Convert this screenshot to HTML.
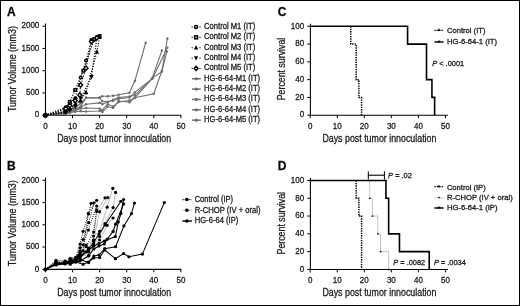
<!DOCTYPE html>
<html><head><meta charset="utf-8"><style>
html,body{margin:0;padding:0;background:#fff;}
body{width:520px;height:306px;overflow:hidden;}
svg{display:block;font-family:"Liberation Sans", sans-serif;will-change:transform;} text{stroke:#222;stroke-width:0.3px;}
</style></head><body>
<svg width="520" height="306" viewBox="0 0 520 306">
<rect x="0" y="0" width="520" height="306" fill="#fff"/>
<text x="277.7" y="15.9" font-size="12" text-anchor="start" font-weight="bold" fill="#000" >C</text>
<line x1="310.40" y1="23.80" x2="310.40" y2="115.70" stroke="#000" stroke-width="1.1" />
<line x1="307.30" y1="115.20" x2="310.40" y2="115.20" stroke="#000" stroke-width="1.0" />
<text x="304.2" y="117.45" font-size="8.9" text-anchor="end" font-weight="normal" fill="#1a1a1a" textLength="4.45" lengthAdjust="spacingAndGlyphs" >0</text>
<line x1="307.30" y1="97.42" x2="310.40" y2="97.42" stroke="#000" stroke-width="1.0" />
<text x="304.2" y="99.67" font-size="8.9" text-anchor="end" font-weight="normal" fill="#1a1a1a" textLength="8.9" lengthAdjust="spacingAndGlyphs" >20</text>
<line x1="307.30" y1="79.64" x2="310.40" y2="79.64" stroke="#000" stroke-width="1.0" />
<text x="304.2" y="81.89" font-size="8.9" text-anchor="end" font-weight="normal" fill="#1a1a1a" textLength="8.9" lengthAdjust="spacingAndGlyphs" >40</text>
<line x1="307.30" y1="61.86" x2="310.40" y2="61.86" stroke="#000" stroke-width="1.0" />
<text x="304.2" y="64.11" font-size="8.9" text-anchor="end" font-weight="normal" fill="#1a1a1a" textLength="8.9" lengthAdjust="spacingAndGlyphs" >60</text>
<line x1="307.30" y1="44.08" x2="310.40" y2="44.08" stroke="#000" stroke-width="1.0" />
<text x="304.2" y="46.33" font-size="8.9" text-anchor="end" font-weight="normal" fill="#1a1a1a" textLength="8.9" lengthAdjust="spacingAndGlyphs" >80</text>
<line x1="307.30" y1="26.30" x2="310.40" y2="26.30" stroke="#000" stroke-width="1.0" />
<text x="304.2" y="28.549999999999997" font-size="8.9" text-anchor="end" font-weight="normal" fill="#1a1a1a" textLength="13.350000000000001" lengthAdjust="spacingAndGlyphs" >100</text>
<line x1="309.90" y1="115.30" x2="447.90" y2="115.30" stroke="#000" stroke-width="1.1" />
<line x1="310.20" y1="115.30" x2="310.20" y2="118.20" stroke="#000" stroke-width="1.0" />
<text x="310.2" y="128.7" font-size="8.9" text-anchor="middle" font-weight="normal" fill="#1a1a1a" textLength="4.45" lengthAdjust="spacingAndGlyphs" >0</text>
<line x1="337.25" y1="115.30" x2="337.25" y2="118.20" stroke="#000" stroke-width="1.0" />
<text x="337.25" y="128.7" font-size="8.9" text-anchor="middle" font-weight="normal" fill="#1a1a1a" textLength="8.9" lengthAdjust="spacingAndGlyphs" >10</text>
<line x1="364.30" y1="115.30" x2="364.30" y2="118.20" stroke="#000" stroke-width="1.0" />
<text x="364.3" y="128.7" font-size="8.9" text-anchor="middle" font-weight="normal" fill="#1a1a1a" textLength="8.9" lengthAdjust="spacingAndGlyphs" >20</text>
<line x1="391.35" y1="115.30" x2="391.35" y2="118.20" stroke="#000" stroke-width="1.0" />
<text x="391.35" y="128.7" font-size="8.9" text-anchor="middle" font-weight="normal" fill="#1a1a1a" textLength="8.9" lengthAdjust="spacingAndGlyphs" >30</text>
<line x1="418.40" y1="115.30" x2="418.40" y2="118.20" stroke="#000" stroke-width="1.0" />
<text x="418.4" y="128.7" font-size="8.9" text-anchor="middle" font-weight="normal" fill="#1a1a1a" textLength="8.9" lengthAdjust="spacingAndGlyphs" >40</text>
<line x1="445.45" y1="115.30" x2="445.45" y2="118.20" stroke="#000" stroke-width="1.0" />
<text x="445.45" y="128.7" font-size="8.9" text-anchor="middle" font-weight="normal" fill="#1a1a1a" textLength="8.9" lengthAdjust="spacingAndGlyphs" >50</text>
<text x="322.4" y="142.1" font-size="10.6" text-anchor="start" font-weight="normal" fill="#1a1a1a" textLength="114" lengthAdjust="spacingAndGlyphs" >Days post tumor innoculation</text>
<text transform="translate(285.0,69) rotate(-90)" font-size="10.6" text-anchor="middle" fill="#1a1a1a" textLength="62.5" lengthAdjust="spacingAndGlyphs">Percent survival</text>
<polyline points="350.77,26.30 350.77,26.30 350.77,44.08 356.19,44.08 356.19,79.64 358.89,79.64 358.89,97.42 361.59,97.42 361.59,115.20" fill="none" stroke="#000" stroke-width="1.5" stroke-linejoin="miter" stroke-dasharray="1.35 1.05"/>
<polyline points="310.20,26.30 407.58,26.30 407.58,44.08 426.51,44.08 426.51,79.64 431.93,79.64 431.93,97.42 434.63,97.42 434.63,115.20" fill="none" stroke="#000" stroke-width="1.6" stroke-linejoin="miter" />
<line x1="434.40" y1="30.30" x2="443.60" y2="30.30" stroke="#000" stroke-width="1.2" stroke-dasharray="1.35 1.05"/>
<path d="M437.5,30.9 L439,28.3 L440.5,30.9 Z" fill="#000"/>
<line x1="434.40" y1="42.00" x2="443.60" y2="42.00" stroke="#000" stroke-width="1.4" />
<path d="M437.5,42.3 L439,39.9 L440.5,42.3 Z" fill="#000"/>
<text x="446.9" y="33.3" font-size="7.9" text-anchor="start" font-weight="normal" fill="#1a1a1a" textLength="38.6" lengthAdjust="spacingAndGlyphs" >Control (IT)</text>
<text x="446.9" y="43.8" font-size="7.9" text-anchor="start" font-weight="normal" fill="#1a1a1a" textLength="50.2" lengthAdjust="spacingAndGlyphs" >HG-6-64-1 (IT)</text>
<text x="432.2" y="66.3" font-size="7.7" fill="#1a1a1a" textLength="32" lengthAdjust="spacingAndGlyphs"><tspan font-style="italic">P</tspan> &lt; .0001</text>
<text x="277.7" y="170.1" font-size="12" text-anchor="start" font-weight="bold" fill="#000" >D</text>
<line x1="310.40" y1="178.00" x2="310.40" y2="269.90" stroke="#000" stroke-width="1.1" />
<line x1="307.30" y1="269.40" x2="310.40" y2="269.40" stroke="#000" stroke-width="1.0" />
<text x="304.2" y="271.65" font-size="8.9" text-anchor="end" font-weight="normal" fill="#1a1a1a" textLength="4.45" lengthAdjust="spacingAndGlyphs" >0</text>
<line x1="307.30" y1="251.62" x2="310.40" y2="251.62" stroke="#000" stroke-width="1.0" />
<text x="304.2" y="253.86999999999998" font-size="8.9" text-anchor="end" font-weight="normal" fill="#1a1a1a" textLength="8.9" lengthAdjust="spacingAndGlyphs" >20</text>
<line x1="307.30" y1="233.84" x2="310.40" y2="233.84" stroke="#000" stroke-width="1.0" />
<text x="304.2" y="236.08999999999997" font-size="8.9" text-anchor="end" font-weight="normal" fill="#1a1a1a" textLength="8.9" lengthAdjust="spacingAndGlyphs" >40</text>
<line x1="307.30" y1="216.06" x2="310.40" y2="216.06" stroke="#000" stroke-width="1.0" />
<text x="304.2" y="218.30999999999997" font-size="8.9" text-anchor="end" font-weight="normal" fill="#1a1a1a" textLength="8.9" lengthAdjust="spacingAndGlyphs" >60</text>
<line x1="307.30" y1="198.28" x2="310.40" y2="198.28" stroke="#000" stroke-width="1.0" />
<text x="304.2" y="200.52999999999997" font-size="8.9" text-anchor="end" font-weight="normal" fill="#1a1a1a" textLength="8.9" lengthAdjust="spacingAndGlyphs" >80</text>
<line x1="307.30" y1="180.50" x2="310.40" y2="180.50" stroke="#000" stroke-width="1.0" />
<text x="304.2" y="182.74999999999997" font-size="8.9" text-anchor="end" font-weight="normal" fill="#1a1a1a" textLength="13.350000000000001" lengthAdjust="spacingAndGlyphs" >100</text>
<line x1="309.90" y1="269.50" x2="447.90" y2="269.50" stroke="#000" stroke-width="1.1" />
<line x1="310.20" y1="269.50" x2="310.20" y2="272.40" stroke="#000" stroke-width="1.0" />
<text x="310.2" y="282.9" font-size="8.9" text-anchor="middle" font-weight="normal" fill="#1a1a1a" textLength="4.45" lengthAdjust="spacingAndGlyphs" >0</text>
<line x1="337.25" y1="269.50" x2="337.25" y2="272.40" stroke="#000" stroke-width="1.0" />
<text x="337.25" y="282.9" font-size="8.9" text-anchor="middle" font-weight="normal" fill="#1a1a1a" textLength="8.9" lengthAdjust="spacingAndGlyphs" >10</text>
<line x1="364.30" y1="269.50" x2="364.30" y2="272.40" stroke="#000" stroke-width="1.0" />
<text x="364.3" y="282.9" font-size="8.9" text-anchor="middle" font-weight="normal" fill="#1a1a1a" textLength="8.9" lengthAdjust="spacingAndGlyphs" >20</text>
<line x1="391.35" y1="269.50" x2="391.35" y2="272.40" stroke="#000" stroke-width="1.0" />
<text x="391.35" y="282.9" font-size="8.9" text-anchor="middle" font-weight="normal" fill="#1a1a1a" textLength="8.9" lengthAdjust="spacingAndGlyphs" >30</text>
<line x1="418.40" y1="269.50" x2="418.40" y2="272.40" stroke="#000" stroke-width="1.0" />
<text x="418.4" y="282.9" font-size="8.9" text-anchor="middle" font-weight="normal" fill="#1a1a1a" textLength="8.9" lengthAdjust="spacingAndGlyphs" >40</text>
<line x1="445.45" y1="269.50" x2="445.45" y2="272.40" stroke="#000" stroke-width="1.0" />
<text x="445.45" y="282.9" font-size="8.9" text-anchor="middle" font-weight="normal" fill="#1a1a1a" textLength="8.9" lengthAdjust="spacingAndGlyphs" >50</text>
<text x="322.4" y="296.29999999999995" font-size="10.6" text-anchor="start" font-weight="normal" fill="#1a1a1a" textLength="114" lengthAdjust="spacingAndGlyphs" >Days post tumor innoculation</text>
<text transform="translate(285.0,223.2) rotate(-90)" font-size="10.6" text-anchor="middle" fill="#1a1a1a" textLength="62.5" lengthAdjust="spacingAndGlyphs">Percent survival</text>
<polyline points="356.19,180.50 356.19,180.50 356.19,198.28 358.89,198.28 358.89,216.06 361.59,216.06 361.59,269.40" fill="none" stroke="#000" stroke-width="1.5" stroke-linejoin="miter" stroke-dasharray="1.35 1.05"/>
<polyline points="369.71,180.50 369.71,180.50 369.71,198.28 372.41,198.28 372.41,216.06 377.82,216.06 377.82,233.84 380.53,233.84 380.53,251.62 388.64,251.62 388.64,269.40" fill="none" stroke="#c4c4c4" stroke-width="1.0" stroke-linejoin="miter" />
<circle cx="369.71" cy="198.28" r="0.9" fill="#111"/>
<circle cx="372.41" cy="216.06" r="0.9" fill="#111"/>
<circle cx="377.82" cy="233.84" r="0.9" fill="#111"/>
<circle cx="380.53" cy="251.62" r="0.9" fill="#111"/>
<circle cx="388.64" cy="269.40" r="0.9" fill="#111"/>
<polyline points="310.20,180.50 385.94,180.50 385.94,198.28 388.64,198.28 388.64,233.84 399.46,233.84 399.46,251.62 429.22,251.62 429.22,269.40" fill="none" stroke="#000" stroke-width="1.6" stroke-linejoin="miter" />
<line x1="368.30" y1="175.20" x2="384.40" y2="175.20" stroke="#000" stroke-width="1.1" />
<line x1="368.30" y1="171.30" x2="368.30" y2="179.60" stroke="#000" stroke-width="1.0" />
<line x1="384.40" y1="171.30" x2="384.40" y2="179.60" stroke="#000" stroke-width="1.0" />
<text x="388.1" y="178.2" font-size="7.7" fill="#1a1a1a" textLength="23.8" lengthAdjust="spacingAndGlyphs"><tspan font-style="italic">P</tspan> = .02</text>
<text x="393.3" y="265.1" font-size="7.7" fill="#1a1a1a" textLength="31.8" lengthAdjust="spacingAndGlyphs"><tspan font-style="italic">P</tspan> = .0082</text>
<text x="433.9" y="265.0" font-size="7.7" fill="#1a1a1a" textLength="31.9" lengthAdjust="spacingAndGlyphs"><tspan font-style="italic">P</tspan> = .0034</text>
<line x1="434.40" y1="186.70" x2="443.60" y2="186.70" stroke="#000" stroke-width="1.2" stroke-dasharray="1.35 1.05"/>
<path d="M437.5,187.3 L439,184.7 L440.5,187.3 Z" fill="#000"/>
<line x1="434.40" y1="197.80" x2="443.60" y2="197.80" stroke="#c4c4c4" stroke-width="1.0" />
<path d="M437.9,198.2 L439,196.3 L440.1,198.2 Z" fill="#000"/>
<line x1="434.40" y1="208.00" x2="443.60" y2="208.00" stroke="#000" stroke-width="1.5" />
<path d="M437.5,208.3 L439,205.9 L440.5,208.3 Z" fill="#000"/>
<text x="446.9" y="189.5" font-size="7.9" text-anchor="start" font-weight="normal" fill="#1a1a1a" textLength="38.8" lengthAdjust="spacingAndGlyphs" >Control (IP)</text>
<text x="446.9" y="200.0" font-size="7.9" text-anchor="start" font-weight="normal" fill="#1a1a1a" textLength="65.8" lengthAdjust="spacingAndGlyphs" >R-CHOP (IV + oral)</text>
<text x="446.9" y="210.4" font-size="7.9" text-anchor="start" font-weight="normal" fill="#1a1a1a" textLength="50.6" lengthAdjust="spacingAndGlyphs" >HG-6-64-1 (IP)</text>
<text x="7.0" y="15.7" font-size="12" text-anchor="start" font-weight="bold" fill="#000" >A</text>
<line x1="45.50" y1="23.50" x2="45.50" y2="115.70" stroke="#000" stroke-width="1.1" />
<line x1="42.40" y1="115.20" x2="45.50" y2="115.20" stroke="#000" stroke-width="1.0" />
<text x="39.3" y="117.45" font-size="8.9" text-anchor="end" font-weight="normal" fill="#1a1a1a" textLength="4.45" lengthAdjust="spacingAndGlyphs" >0</text>
<line x1="42.40" y1="92.95" x2="45.50" y2="92.95" stroke="#000" stroke-width="1.0" />
<text x="39.3" y="95.2" font-size="8.9" text-anchor="end" font-weight="normal" fill="#1a1a1a" textLength="13.350000000000001" lengthAdjust="spacingAndGlyphs" >500</text>
<line x1="42.40" y1="70.70" x2="45.50" y2="70.70" stroke="#000" stroke-width="1.0" />
<text x="39.3" y="72.95" font-size="8.9" text-anchor="end" font-weight="normal" fill="#1a1a1a" textLength="17.8" lengthAdjust="spacingAndGlyphs" >1000</text>
<line x1="42.40" y1="48.45" x2="45.50" y2="48.45" stroke="#000" stroke-width="1.0" />
<text x="39.3" y="50.7" font-size="8.9" text-anchor="end" font-weight="normal" fill="#1a1a1a" textLength="17.8" lengthAdjust="spacingAndGlyphs" >1500</text>
<line x1="42.40" y1="26.20" x2="45.50" y2="26.20" stroke="#000" stroke-width="1.0" />
<text x="39.3" y="28.450000000000003" font-size="8.9" text-anchor="end" font-weight="normal" fill="#1a1a1a" textLength="17.8" lengthAdjust="spacingAndGlyphs" >2000</text>
<line x1="45.00" y1="115.30" x2="181.20" y2="115.30" stroke="#000" stroke-width="1.1" />
<line x1="45.40" y1="115.30" x2="45.40" y2="118.20" stroke="#000" stroke-width="1.0" />
<text x="45.4" y="128.7" font-size="8.9" text-anchor="middle" font-weight="normal" fill="#1a1a1a" textLength="4.45" lengthAdjust="spacingAndGlyphs" >0</text>
<line x1="72.50" y1="115.30" x2="72.50" y2="118.20" stroke="#000" stroke-width="1.0" />
<text x="72.5" y="128.7" font-size="8.9" text-anchor="middle" font-weight="normal" fill="#1a1a1a" textLength="8.9" lengthAdjust="spacingAndGlyphs" >10</text>
<line x1="99.60" y1="115.30" x2="99.60" y2="118.20" stroke="#000" stroke-width="1.0" />
<text x="99.6" y="128.7" font-size="8.9" text-anchor="middle" font-weight="normal" fill="#1a1a1a" textLength="8.9" lengthAdjust="spacingAndGlyphs" >20</text>
<line x1="126.70" y1="115.30" x2="126.70" y2="118.20" stroke="#000" stroke-width="1.0" />
<text x="126.69999999999999" y="128.7" font-size="8.9" text-anchor="middle" font-weight="normal" fill="#1a1a1a" textLength="8.9" lengthAdjust="spacingAndGlyphs" >30</text>
<line x1="153.80" y1="115.30" x2="153.80" y2="118.20" stroke="#000" stroke-width="1.0" />
<text x="153.8" y="128.7" font-size="8.9" text-anchor="middle" font-weight="normal" fill="#1a1a1a" textLength="8.9" lengthAdjust="spacingAndGlyphs" >40</text>
<line x1="180.90" y1="115.30" x2="180.90" y2="118.20" stroke="#000" stroke-width="1.0" />
<text x="180.9" y="128.7" font-size="8.9" text-anchor="middle" font-weight="normal" fill="#1a1a1a" textLength="8.9" lengthAdjust="spacingAndGlyphs" >50</text>
<text x="57.2" y="142.1" font-size="10.6" text-anchor="start" font-weight="normal" fill="#1a1a1a" textLength="114" lengthAdjust="spacingAndGlyphs" >Days post tumor innoculation</text>
<text transform="translate(15.9,69.1) rotate(-90)" font-size="10.6" text-anchor="middle" fill="#1a1a1a" textLength="86" lengthAdjust="spacingAndGlyphs">Tumor Volume (mm3)</text>
<polyline points="45.40,115.30 64.37,111.74 69.79,109.52 75.21,107.73 80.63,103.28 86.05,97.81 99.60,97.59 102.31,96.30 107.73,96.30 113.15,95.81 118.57,94.79 129.41,92.78 134.83,81.08 145.67,42.77" fill="none" stroke="#707070" stroke-width="1.1" stroke-linejoin="miter" />
<polyline points="45.40,115.30 64.37,112.63 69.79,110.85 75.21,109.07 80.63,106.40 86.05,97.81 99.60,97.94 102.31,101.19 107.73,101.68 113.15,100.70 118.57,98.70 129.41,97.59 134.83,92.38 151.90,78.81 161.93,50.42" fill="none" stroke="#707070" stroke-width="1.1" stroke-linejoin="miter" />
<polyline points="45.40,115.30 64.37,113.52 69.79,112.19 75.21,110.41 80.63,108.62 86.05,108.00 99.60,108.49 102.31,112.01 107.73,106.58 113.15,108.00 118.57,101.06 129.41,102.22 134.83,97.81 152.72,77.79 161.93,71.38 166.81,51.40" fill="none" stroke="#707070" stroke-width="1.1" stroke-linejoin="miter" />
<polyline points="45.40,115.30 64.37,113.97 69.79,112.63 75.21,111.74 80.63,111.30 86.05,111.52 99.60,110.98 102.31,109.96 107.73,104.17 113.15,106.40 118.57,101.95 129.41,100.61 134.83,97.81 153.80,93.72 161.93,70.80 167.35,38.58" fill="none" stroke="#707070" stroke-width="1.1" stroke-linejoin="miter" />
<polyline points="45.40,115.30 64.37,113.08 69.79,111.30 75.21,109.96 80.63,107.29 86.05,104.17 99.60,102.84 102.31,104.17 107.73,101.95 113.15,99.72 118.57,97.50 129.41,96.61 134.83,95.28 152.44,78.37 167.35,47.66" fill="none" stroke="#707070" stroke-width="1.1" stroke-linejoin="miter" />
<circle cx="64.37" cy="111.74" r="1.25" fill="#6e6e6e"/>
<circle cx="69.79" cy="109.52" r="1.25" fill="#6e6e6e"/>
<circle cx="75.21" cy="107.73" r="1.25" fill="#6e6e6e"/>
<circle cx="80.63" cy="103.28" r="1.25" fill="#6e6e6e"/>
<circle cx="86.05" cy="97.81" r="1.25" fill="#6e6e6e"/>
<circle cx="99.60" cy="97.59" r="1.25" fill="#6e6e6e"/>
<circle cx="102.31" cy="96.30" r="1.25" fill="#6e6e6e"/>
<circle cx="107.73" cy="96.30" r="1.25" fill="#6e6e6e"/>
<circle cx="113.15" cy="95.81" r="1.25" fill="#6e6e6e"/>
<circle cx="118.57" cy="94.79" r="1.25" fill="#6e6e6e"/>
<circle cx="129.41" cy="92.78" r="1.25" fill="#6e6e6e"/>
<circle cx="134.83" cy="81.08" r="1.25" fill="#6e6e6e"/>
<circle cx="145.67" cy="42.77" r="1.25" fill="#6e6e6e"/>
<circle cx="64.37" cy="112.63" r="1.25" fill="#6e6e6e"/>
<circle cx="69.79" cy="110.85" r="1.25" fill="#6e6e6e"/>
<circle cx="75.21" cy="109.07" r="1.25" fill="#6e6e6e"/>
<circle cx="80.63" cy="106.40" r="1.25" fill="#6e6e6e"/>
<circle cx="86.05" cy="97.81" r="1.25" fill="#6e6e6e"/>
<circle cx="99.60" cy="97.94" r="1.25" fill="#6e6e6e"/>
<circle cx="102.31" cy="101.19" r="1.25" fill="#6e6e6e"/>
<circle cx="107.73" cy="101.68" r="1.25" fill="#6e6e6e"/>
<circle cx="113.15" cy="100.70" r="1.25" fill="#6e6e6e"/>
<circle cx="118.57" cy="98.70" r="1.25" fill="#6e6e6e"/>
<circle cx="129.41" cy="97.59" r="1.25" fill="#6e6e6e"/>
<circle cx="134.83" cy="92.38" r="1.25" fill="#6e6e6e"/>
<circle cx="151.90" cy="78.81" r="1.25" fill="#6e6e6e"/>
<circle cx="161.93" cy="50.42" r="1.25" fill="#6e6e6e"/>
<circle cx="64.37" cy="113.52" r="1.25" fill="#6e6e6e"/>
<circle cx="69.79" cy="112.19" r="1.25" fill="#6e6e6e"/>
<circle cx="75.21" cy="110.41" r="1.25" fill="#6e6e6e"/>
<circle cx="80.63" cy="108.62" r="1.25" fill="#6e6e6e"/>
<circle cx="86.05" cy="108.00" r="1.25" fill="#6e6e6e"/>
<circle cx="99.60" cy="108.49" r="1.25" fill="#6e6e6e"/>
<circle cx="102.31" cy="112.01" r="1.25" fill="#6e6e6e"/>
<circle cx="107.73" cy="106.58" r="1.25" fill="#6e6e6e"/>
<circle cx="113.15" cy="108.00" r="1.25" fill="#6e6e6e"/>
<circle cx="118.57" cy="101.06" r="1.25" fill="#6e6e6e"/>
<circle cx="129.41" cy="102.22" r="1.25" fill="#6e6e6e"/>
<circle cx="134.83" cy="97.81" r="1.25" fill="#6e6e6e"/>
<circle cx="152.72" cy="77.79" r="1.25" fill="#6e6e6e"/>
<circle cx="161.93" cy="71.38" r="1.25" fill="#6e6e6e"/>
<circle cx="166.81" cy="51.40" r="1.25" fill="#6e6e6e"/>
<circle cx="64.37" cy="113.97" r="1.25" fill="#6e6e6e"/>
<circle cx="69.79" cy="112.63" r="1.25" fill="#6e6e6e"/>
<circle cx="75.21" cy="111.74" r="1.25" fill="#6e6e6e"/>
<circle cx="80.63" cy="111.30" r="1.25" fill="#6e6e6e"/>
<circle cx="86.05" cy="111.52" r="1.25" fill="#6e6e6e"/>
<circle cx="99.60" cy="110.98" r="1.25" fill="#6e6e6e"/>
<circle cx="102.31" cy="109.96" r="1.25" fill="#6e6e6e"/>
<circle cx="107.73" cy="104.17" r="1.25" fill="#6e6e6e"/>
<circle cx="113.15" cy="106.40" r="1.25" fill="#6e6e6e"/>
<circle cx="118.57" cy="101.95" r="1.25" fill="#6e6e6e"/>
<circle cx="129.41" cy="100.61" r="1.25" fill="#6e6e6e"/>
<circle cx="134.83" cy="97.81" r="1.25" fill="#6e6e6e"/>
<circle cx="153.80" cy="93.72" r="1.25" fill="#6e6e6e"/>
<circle cx="161.93" cy="70.80" r="1.25" fill="#6e6e6e"/>
<circle cx="167.35" cy="38.58" r="1.25" fill="#6e6e6e"/>
<circle cx="64.37" cy="113.08" r="1.25" fill="#6e6e6e"/>
<circle cx="69.79" cy="111.30" r="1.25" fill="#6e6e6e"/>
<circle cx="75.21" cy="109.96" r="1.25" fill="#6e6e6e"/>
<circle cx="80.63" cy="107.29" r="1.25" fill="#6e6e6e"/>
<circle cx="86.05" cy="104.17" r="1.25" fill="#6e6e6e"/>
<circle cx="99.60" cy="102.84" r="1.25" fill="#6e6e6e"/>
<circle cx="102.31" cy="104.17" r="1.25" fill="#6e6e6e"/>
<circle cx="107.73" cy="101.95" r="1.25" fill="#6e6e6e"/>
<circle cx="113.15" cy="99.72" r="1.25" fill="#6e6e6e"/>
<circle cx="118.57" cy="97.50" r="1.25" fill="#6e6e6e"/>
<circle cx="129.41" cy="96.61" r="1.25" fill="#6e6e6e"/>
<circle cx="134.83" cy="95.28" r="1.25" fill="#6e6e6e"/>
<circle cx="152.44" cy="78.37" r="1.25" fill="#6e6e6e"/>
<circle cx="167.35" cy="47.66" r="1.25" fill="#6e6e6e"/>
<polyline points="45.40,115.30 65.72,107.29 69.79,102.84 75.21,98.39 80.63,77.47 86.05,60.56 91.47,40.09 94.18,39.65" fill="none" stroke="#000" stroke-width="1.15" stroke-linejoin="miter" stroke-dasharray="1.1 1.5"/>
<polyline points="45.40,115.30 65.72,109.52 69.79,101.95 75.21,89.94 83.34,70.80 94.18,39.20 99.60,36.09" fill="none" stroke="#000" stroke-width="1.15" stroke-linejoin="miter" stroke-dasharray="1.1 1.5"/>
<polyline points="45.40,115.30 65.72,111.30 69.79,108.62 75.21,104.17 80.63,100.61 86.05,92.16 96.89,51.66 99.60,36.98" fill="none" stroke="#000" stroke-width="1.15" stroke-linejoin="miter" stroke-dasharray="1.1 1.5"/>
<polyline points="45.40,115.30 65.72,112.63 69.79,109.96 75.21,106.40 80.63,98.39 91.47,77.03 96.89,37.42" fill="none" stroke="#000" stroke-width="1.15" stroke-linejoin="miter" stroke-dasharray="1.1 1.5"/>
<polyline points="45.40,115.30 65.72,108.62 69.79,105.51 75.21,100.61 79.82,95.01 80.63,85.04 86.05,68.13 91.47,41.43 96.89,37.87" fill="none" stroke="#000" stroke-width="1.15" stroke-linejoin="miter" stroke-dasharray="1.1 1.5"/>
<circle cx="65.72" cy="107.29" r="1.32" fill="#fff" stroke="#000" stroke-width="1.5"/>
<circle cx="69.79" cy="102.84" r="1.32" fill="#fff" stroke="#000" stroke-width="1.5"/>
<circle cx="75.21" cy="98.39" r="1.32" fill="#fff" stroke="#000" stroke-width="1.5"/>
<circle cx="80.63" cy="77.47" r="1.32" fill="#fff" stroke="#000" stroke-width="1.5"/>
<circle cx="86.05" cy="60.56" r="1.32" fill="#fff" stroke="#000" stroke-width="1.5"/>
<circle cx="91.47" cy="40.09" r="1.32" fill="#fff" stroke="#000" stroke-width="1.5"/>
<circle cx="94.18" cy="39.65" r="1.32" fill="#fff" stroke="#000" stroke-width="1.5"/>
<rect x="64.49" y="108.28" width="2.47" height="2.47" fill="#fff" stroke="#000" stroke-width="1.5"/>
<rect x="68.55" y="100.71" width="2.47" height="2.47" fill="#fff" stroke="#000" stroke-width="1.5"/>
<rect x="73.97" y="88.70" width="2.47" height="2.47" fill="#fff" stroke="#000" stroke-width="1.5"/>
<rect x="82.10" y="69.56" width="2.47" height="2.47" fill="#fff" stroke="#000" stroke-width="1.5"/>
<rect x="92.94" y="37.97" width="2.47" height="2.47" fill="#fff" stroke="#000" stroke-width="1.5"/>
<rect x="98.36" y="34.85" width="2.47" height="2.47" fill="#fff" stroke="#000" stroke-width="1.5"/>
<path d="M63.42,113.30 L65.72,108.80 L68.02,113.30 Z" fill="#000"/>
<path d="M67.49,110.62 L69.79,106.12 L72.09,110.62 Z" fill="#000"/>
<path d="M72.91,106.17 L75.21,101.67 L77.51,106.17 Z" fill="#000"/>
<path d="M78.33,102.61 L80.63,98.11 L82.93,102.61 Z" fill="#000"/>
<path d="M83.75,94.16 L86.05,89.66 L88.35,94.16 Z" fill="#000"/>
<path d="M94.59,53.66 L96.89,49.16 L99.19,53.66 Z" fill="#000"/>
<path d="M97.30,38.98 L99.60,34.48 L101.90,38.98 Z" fill="#000"/>
<path d="M63.42,110.63 L65.72,115.13 L68.02,110.63 Z" fill="#000"/>
<path d="M67.49,107.96 L69.79,112.46 L72.09,107.96 Z" fill="#000"/>
<path d="M72.91,104.40 L75.21,108.90 L77.51,104.40 Z" fill="#000"/>
<path d="M78.33,96.39 L80.63,100.89 L82.93,96.39 Z" fill="#000"/>
<path d="M89.17,75.03 L91.47,79.53 L93.77,75.03 Z" fill="#000"/>
<path d="M94.59,35.42 L96.89,39.92 L99.19,35.42 Z" fill="#000"/>
<path d="M65.72,106.42 L67.72,108.62 L65.72,110.83 L63.72,108.62 Z" fill="#fff" stroke="#000" stroke-width="1.4"/>
<path d="M69.79,103.31 L71.79,105.51 L69.79,107.71 L67.79,105.51 Z" fill="#fff" stroke="#000" stroke-width="1.4"/>
<path d="M75.21,98.41 L77.21,100.61 L75.21,102.81 L73.21,100.61 Z" fill="#fff" stroke="#000" stroke-width="1.4"/>
<path d="M79.82,92.81 L81.82,95.01 L79.82,97.21 L77.82,95.01 Z" fill="#fff" stroke="#000" stroke-width="1.4"/>
<path d="M80.63,82.84 L82.63,85.04 L80.63,87.24 L78.63,85.04 Z" fill="#fff" stroke="#000" stroke-width="1.4"/>
<path d="M86.05,65.93 L88.05,68.13 L86.05,70.33 L84.05,68.13 Z" fill="#fff" stroke="#000" stroke-width="1.4"/>
<path d="M91.47,39.23 L93.47,41.43 L91.47,43.63 L89.47,41.43 Z" fill="#fff" stroke="#000" stroke-width="1.4"/>
<path d="M96.89,35.67 L98.89,37.87 L96.89,40.07 L94.89,37.87 Z" fill="#fff" stroke="#000" stroke-width="1.4"/>
<circle cx="45.4" cy="115.3" r="2.6" fill="#000"/>
<rect x="191.6" y="26.40" width="1.2" height="1.2" fill="#222"/>
<rect x="199.4" y="26.40" width="1.2" height="1.2" fill="#222"/>
<circle cx="196.10" cy="27.00" r="1.52" fill="#fff" stroke="#000" stroke-width="1.5"/>
<text x="204.1" y="29.0" font-size="8.3" text-anchor="start" font-weight="normal" fill="#1a1a1a" textLength="51.2" lengthAdjust="spacingAndGlyphs" >Control M1 (IT)</text>
<rect x="191.6" y="36.75" width="1.2" height="1.2" fill="#222"/>
<rect x="199.4" y="36.75" width="1.2" height="1.2" fill="#222"/>
<rect x="194.67" y="35.93" width="2.85" height="2.85" fill="#fff" stroke="#000" stroke-width="1.5"/>
<text x="204.1" y="39.35" font-size="8.3" text-anchor="start" font-weight="normal" fill="#1a1a1a" textLength="51.2" lengthAdjust="spacingAndGlyphs" >Control M2 (IT)</text>
<rect x="191.6" y="47.10" width="1.2" height="1.2" fill="#222"/>
<rect x="199.4" y="47.10" width="1.2" height="1.2" fill="#222"/>
<path d="M193.91,49.60 L196.10,45.33 L198.28,49.60 Z" fill="#000"/>
<text x="204.1" y="49.7" font-size="8.3" text-anchor="start" font-weight="normal" fill="#1a1a1a" textLength="51.2" lengthAdjust="spacingAndGlyphs" >Control M3 (IT)</text>
<rect x="191.6" y="57.45" width="1.2" height="1.2" fill="#222"/>
<rect x="199.4" y="57.45" width="1.2" height="1.2" fill="#222"/>
<path d="M193.91,56.15 L196.10,60.42 L198.28,56.15 Z" fill="#000"/>
<text x="204.1" y="60.05" font-size="8.3" text-anchor="start" font-weight="normal" fill="#1a1a1a" textLength="51.2" lengthAdjust="spacingAndGlyphs" >Control M4 (IT)</text>
<rect x="191.6" y="67.80" width="1.2" height="1.2" fill="#222"/>
<rect x="199.4" y="67.80" width="1.2" height="1.2" fill="#222"/>
<path d="M196.10,66.31 L198.00,68.40 L196.10,70.49 L194.20,68.40 Z" fill="#fff" stroke="#000" stroke-width="1.4"/>
<text x="204.1" y="70.4" font-size="8.3" text-anchor="start" font-weight="normal" fill="#1a1a1a" textLength="51.2" lengthAdjust="spacingAndGlyphs" >Control M5 (IT)</text>
<line x1="192.00" y1="78.75" x2="200.80" y2="78.75" stroke="#707070" stroke-width="1.5" />
<circle cx="196.30" cy="78.75" r="1.60" fill="#6e6e6e"/>
<text x="204.1" y="80.75" font-size="8.3" text-anchor="start" font-weight="normal" fill="#1a1a1a" textLength="56.0" lengthAdjust="spacingAndGlyphs" >HG-6-64-M1 (IT)</text>
<line x1="192.00" y1="89.10" x2="200.80" y2="89.10" stroke="#707070" stroke-width="1.5" />
<circle cx="196.30" cy="89.10" r="1.60" fill="#6e6e6e"/>
<text x="204.1" y="91.1" font-size="8.3" text-anchor="start" font-weight="normal" fill="#1a1a1a" textLength="56.0" lengthAdjust="spacingAndGlyphs" >HG-6-64-M2 (IT)</text>
<line x1="192.00" y1="99.45" x2="200.80" y2="99.45" stroke="#707070" stroke-width="1.5" />
<circle cx="196.30" cy="99.45" r="1.60" fill="#6e6e6e"/>
<text x="204.1" y="101.45" font-size="8.3" text-anchor="start" font-weight="normal" fill="#1a1a1a" textLength="56.0" lengthAdjust="spacingAndGlyphs" >HG-6-64-M3 (IT)</text>
<line x1="192.00" y1="109.80" x2="200.80" y2="109.80" stroke="#707070" stroke-width="1.5" />
<circle cx="196.30" cy="109.80" r="1.60" fill="#6e6e6e"/>
<text x="204.1" y="111.8" font-size="8.3" text-anchor="start" font-weight="normal" fill="#1a1a1a" textLength="56.0" lengthAdjust="spacingAndGlyphs" >HG-6-64-M4 (IT)</text>
<line x1="192.00" y1="120.15" x2="200.80" y2="120.15" stroke="#707070" stroke-width="1.5" />
<circle cx="196.30" cy="120.15" r="1.60" fill="#6e6e6e"/>
<text x="204.1" y="122.14999999999999" font-size="8.3" text-anchor="start" font-weight="normal" fill="#1a1a1a" textLength="56.0" lengthAdjust="spacingAndGlyphs" >HG-6-64-M5 (IT)</text>
<text x="7.0" y="169.79999999999998" font-size="12" text-anchor="start" font-weight="bold" fill="#000" >B</text>
<line x1="45.50" y1="177.60" x2="45.50" y2="269.80" stroke="#000" stroke-width="1.1" />
<line x1="42.40" y1="269.30" x2="45.50" y2="269.30" stroke="#000" stroke-width="1.0" />
<text x="39.3" y="271.55" font-size="8.9" text-anchor="end" font-weight="normal" fill="#1a1a1a" textLength="4.45" lengthAdjust="spacingAndGlyphs" >0</text>
<line x1="42.40" y1="247.05" x2="45.50" y2="247.05" stroke="#000" stroke-width="1.0" />
<text x="39.3" y="249.3" font-size="8.9" text-anchor="end" font-weight="normal" fill="#1a1a1a" textLength="13.350000000000001" lengthAdjust="spacingAndGlyphs" >500</text>
<line x1="42.40" y1="224.80" x2="45.50" y2="224.80" stroke="#000" stroke-width="1.0" />
<text x="39.3" y="227.05" font-size="8.9" text-anchor="end" font-weight="normal" fill="#1a1a1a" textLength="17.8" lengthAdjust="spacingAndGlyphs" >1000</text>
<line x1="42.40" y1="202.55" x2="45.50" y2="202.55" stroke="#000" stroke-width="1.0" />
<text x="39.3" y="204.8" font-size="8.9" text-anchor="end" font-weight="normal" fill="#1a1a1a" textLength="17.8" lengthAdjust="spacingAndGlyphs" >1500</text>
<line x1="42.40" y1="180.30" x2="45.50" y2="180.30" stroke="#000" stroke-width="1.0" />
<text x="39.3" y="182.55" font-size="8.9" text-anchor="end" font-weight="normal" fill="#1a1a1a" textLength="17.8" lengthAdjust="spacingAndGlyphs" >2000</text>
<line x1="45.00" y1="269.40" x2="181.20" y2="269.40" stroke="#000" stroke-width="1.1" />
<line x1="45.40" y1="269.40" x2="45.40" y2="272.30" stroke="#000" stroke-width="1.0" />
<text x="45.4" y="282.79999999999995" font-size="8.9" text-anchor="middle" font-weight="normal" fill="#1a1a1a" textLength="4.45" lengthAdjust="spacingAndGlyphs" >0</text>
<line x1="72.50" y1="269.40" x2="72.50" y2="272.30" stroke="#000" stroke-width="1.0" />
<text x="72.5" y="282.79999999999995" font-size="8.9" text-anchor="middle" font-weight="normal" fill="#1a1a1a" textLength="8.9" lengthAdjust="spacingAndGlyphs" >10</text>
<line x1="99.60" y1="269.40" x2="99.60" y2="272.30" stroke="#000" stroke-width="1.0" />
<text x="99.6" y="282.79999999999995" font-size="8.9" text-anchor="middle" font-weight="normal" fill="#1a1a1a" textLength="8.9" lengthAdjust="spacingAndGlyphs" >20</text>
<line x1="126.70" y1="269.40" x2="126.70" y2="272.30" stroke="#000" stroke-width="1.0" />
<text x="126.69999999999999" y="282.79999999999995" font-size="8.9" text-anchor="middle" font-weight="normal" fill="#1a1a1a" textLength="8.9" lengthAdjust="spacingAndGlyphs" >30</text>
<line x1="153.80" y1="269.40" x2="153.80" y2="272.30" stroke="#000" stroke-width="1.0" />
<text x="153.8" y="282.79999999999995" font-size="8.9" text-anchor="middle" font-weight="normal" fill="#1a1a1a" textLength="8.9" lengthAdjust="spacingAndGlyphs" >40</text>
<line x1="180.90" y1="269.40" x2="180.90" y2="272.30" stroke="#000" stroke-width="1.0" />
<text x="180.9" y="282.79999999999995" font-size="8.9" text-anchor="middle" font-weight="normal" fill="#1a1a1a" textLength="8.9" lengthAdjust="spacingAndGlyphs" >50</text>
<text x="57.2" y="296.2" font-size="10.6" text-anchor="start" font-weight="normal" fill="#1a1a1a" textLength="114" lengthAdjust="spacingAndGlyphs" >Days post tumor innoculation</text>
<text transform="translate(15.9,223.2) rotate(-90)" font-size="10.6" text-anchor="middle" fill="#1a1a1a" textLength="86" lengthAdjust="spacingAndGlyphs">Tumor Volume (mm3)</text>
<polyline points="45.40,269.40 56.00,262.00 65.00,262.00 70.30,260.00 75.60,258.00 80.10,252.00 86.10,245.00 93.60,240.30 96.70,211.50 105.00,197.80" fill="none" stroke="#bdbdbd" stroke-width="1.0" stroke-linejoin="miter" />
<polyline points="45.40,269.40 56.00,263.00 65.00,262.50 70.30,261.00 75.60,259.00 80.10,254.00 88.40,248.00 93.60,240.00 99.60,211.70 107.80,197.60" fill="none" stroke="#bdbdbd" stroke-width="1.0" stroke-linejoin="miter" />
<polyline points="45.40,269.40 56.00,262.50 65.00,262.00 70.30,260.50 75.60,258.00 80.10,251.00 88.40,250.00 93.60,236.00 99.60,231.30 107.20,207.20 112.80,188.30" fill="none" stroke="#bdbdbd" stroke-width="1.0" stroke-linejoin="miter" />
<polyline points="45.40,269.40 56.00,263.50 65.00,263.00 70.30,261.50 75.60,259.50 80.10,255.00 88.90,255.40 93.60,244.00 99.60,236.50 105.00,223.70 113.10,207.60 115.60,192.40" fill="none" stroke="#bdbdbd" stroke-width="1.0" stroke-linejoin="miter" />
<polyline points="45.40,269.40 56.00,264.00 65.00,263.20 70.30,262.00 75.60,260.00 80.10,256.00 88.40,252.00 93.60,246.00 99.60,240.00 107.20,225.30 113.10,218.00" fill="none" stroke="#bdbdbd" stroke-width="1.0" stroke-linejoin="miter" />
<polyline points="45.40,269.40 56.00,260.30 65.00,261.00 70.30,258.30 75.60,257.60 80.10,244.00 83.10,231.30 88.40,214.00 91.10,203.30" fill="none" stroke="#000" stroke-width="1.0" stroke-linejoin="miter" stroke-dasharray="0.9 1.3"/>
<polyline points="45.40,269.40 56.00,262.00 65.00,262.80 70.30,260.00 77.80,256.00 80.10,247.80 83.10,239.50 88.70,222.60 93.90,202.80" fill="none" stroke="#000" stroke-width="1.0" stroke-linejoin="miter" stroke-dasharray="0.9 1.3"/>
<polyline points="45.40,269.40 56.00,263.00 65.00,262.00 70.30,261.00 75.60,259.00 83.10,250.80 88.30,213.30 96.70,200.30" fill="none" stroke="#000" stroke-width="1.0" stroke-linejoin="miter" stroke-dasharray="0.9 1.3"/>
<polyline points="45.40,269.40 56.00,262.50 65.00,263.00 70.30,262.00 75.60,260.00 83.10,245.00 88.40,230.00 96.70,206.10" fill="none" stroke="#000" stroke-width="1.0" stroke-linejoin="miter" stroke-dasharray="0.9 1.3"/>
<polyline points="45.40,269.40 56.00,263.60 65.00,263.20 70.30,262.50 75.60,261.00 86.10,246.60 93.60,232.00 96.70,209.80" fill="none" stroke="#000" stroke-width="1.0" stroke-linejoin="miter" stroke-dasharray="0.9 1.3"/>
<polyline points="56.00,263.60 65.00,262.80 70.30,261.00 75.60,259.00 80.10,256.00 88.40,250.00 93.80,242.00 99.00,234.00 105.00,225.00 120.90,201.30" fill="none" stroke="#000" stroke-width="1.05" stroke-linejoin="miter" />
<line x1="45.40" y1="269.40" x2="56.00" y2="263.60" stroke="#000" stroke-width="0.8" />
<polyline points="56.00,264.00 65.00,263.50 70.30,262.00 75.60,260.00 80.10,258.00 86.00,252.00 93.80,246.00 99.00,243.50 104.30,241.00 115.40,236.50 118.30,222.00 120.90,213.60 123.60,199.50" fill="none" stroke="#000" stroke-width="1.05" stroke-linejoin="miter" />
<line x1="45.40" y1="269.40" x2="56.00" y2="264.00" stroke="#000" stroke-width="0.8" />
<polyline points="56.00,264.50 65.00,263.00 70.30,262.50 75.60,261.00 80.10,259.50 88.60,262.60 93.80,256.00 99.00,255.00 104.70,248.70 115.60,246.70 123.90,225.90 131.50,213.60 134.40,203.10" fill="none" stroke="#000" stroke-width="1.05" stroke-linejoin="miter" />
<line x1="45.40" y1="269.40" x2="56.00" y2="264.50" stroke="#000" stroke-width="0.8" />
<polyline points="56.00,265.00 65.00,264.00 70.30,263.00 75.60,262.00 80.10,261.00 88.40,256.00 93.80,249.00 99.00,246.00 104.30,244.00 107.20,239.20 113.10,231.40 115.60,224.20 123.60,203.90" fill="none" stroke="#000" stroke-width="1.05" stroke-linejoin="miter" />
<line x1="45.40" y1="269.40" x2="56.00" y2="265.00" stroke="#000" stroke-width="0.8" />
<polyline points="56.00,264.00 65.00,263.00 70.30,264.30 75.60,262.00 83.10,264.30 88.40,262.00 93.60,258.00 99.60,257.60 104.70,250.00 115.40,258.70 123.60,253.50 128.90,256.80 142.40,254.10 164.30,202.60" fill="none" stroke="#000" stroke-width="1.05" stroke-linejoin="miter" />
<line x1="45.40" y1="269.40" x2="56.00" y2="264.00" stroke="#000" stroke-width="0.8" />
<circle cx="56.00" cy="262.00" r="1.6" fill="#000"/>
<circle cx="65.00" cy="262.00" r="1.6" fill="#000"/>
<circle cx="70.30" cy="260.00" r="1.6" fill="#000"/>
<circle cx="75.60" cy="258.00" r="1.6" fill="#000"/>
<circle cx="80.10" cy="252.00" r="1.6" fill="#000"/>
<circle cx="86.10" cy="245.00" r="1.6" fill="#000"/>
<circle cx="93.60" cy="240.30" r="1.6" fill="#000"/>
<circle cx="96.70" cy="211.50" r="1.6" fill="#000"/>
<circle cx="105.00" cy="197.80" r="1.6" fill="#000"/>
<circle cx="56.00" cy="263.00" r="1.6" fill="#000"/>
<circle cx="65.00" cy="262.50" r="1.6" fill="#000"/>
<circle cx="70.30" cy="261.00" r="1.6" fill="#000"/>
<circle cx="75.60" cy="259.00" r="1.6" fill="#000"/>
<circle cx="80.10" cy="254.00" r="1.6" fill="#000"/>
<circle cx="88.40" cy="248.00" r="1.6" fill="#000"/>
<circle cx="93.60" cy="240.00" r="1.6" fill="#000"/>
<circle cx="99.60" cy="211.70" r="1.6" fill="#000"/>
<circle cx="107.80" cy="197.60" r="1.6" fill="#000"/>
<circle cx="56.00" cy="262.50" r="1.6" fill="#000"/>
<circle cx="65.00" cy="262.00" r="1.6" fill="#000"/>
<circle cx="70.30" cy="260.50" r="1.6" fill="#000"/>
<circle cx="75.60" cy="258.00" r="1.6" fill="#000"/>
<circle cx="80.10" cy="251.00" r="1.6" fill="#000"/>
<circle cx="88.40" cy="250.00" r="1.6" fill="#000"/>
<circle cx="93.60" cy="236.00" r="1.6" fill="#000"/>
<circle cx="99.60" cy="231.30" r="1.6" fill="#000"/>
<circle cx="107.20" cy="207.20" r="1.6" fill="#000"/>
<circle cx="112.80" cy="188.30" r="1.6" fill="#000"/>
<circle cx="56.00" cy="263.50" r="1.6" fill="#000"/>
<circle cx="65.00" cy="263.00" r="1.6" fill="#000"/>
<circle cx="70.30" cy="261.50" r="1.6" fill="#000"/>
<circle cx="75.60" cy="259.50" r="1.6" fill="#000"/>
<circle cx="80.10" cy="255.00" r="1.6" fill="#000"/>
<circle cx="88.90" cy="255.40" r="1.6" fill="#000"/>
<circle cx="93.60" cy="244.00" r="1.6" fill="#000"/>
<circle cx="99.60" cy="236.50" r="1.6" fill="#000"/>
<circle cx="105.00" cy="223.70" r="1.6" fill="#000"/>
<circle cx="113.10" cy="207.60" r="1.6" fill="#000"/>
<circle cx="115.60" cy="192.40" r="1.6" fill="#000"/>
<circle cx="56.00" cy="264.00" r="1.6" fill="#000"/>
<circle cx="65.00" cy="263.20" r="1.6" fill="#000"/>
<circle cx="70.30" cy="262.00" r="1.6" fill="#000"/>
<circle cx="75.60" cy="260.00" r="1.6" fill="#000"/>
<circle cx="80.10" cy="256.00" r="1.6" fill="#000"/>
<circle cx="88.40" cy="252.00" r="1.6" fill="#000"/>
<circle cx="93.60" cy="246.00" r="1.6" fill="#000"/>
<circle cx="99.60" cy="240.00" r="1.6" fill="#000"/>
<circle cx="107.20" cy="225.30" r="1.6" fill="#000"/>
<circle cx="113.10" cy="218.00" r="1.6" fill="#000"/>
<circle cx="56.00" cy="260.30" r="1.6" fill="#000"/>
<circle cx="65.00" cy="261.00" r="1.6" fill="#000"/>
<circle cx="70.30" cy="258.30" r="1.6" fill="#000"/>
<circle cx="75.60" cy="257.60" r="1.6" fill="#000"/>
<circle cx="80.10" cy="244.00" r="1.6" fill="#000"/>
<circle cx="83.10" cy="231.30" r="1.6" fill="#000"/>
<circle cx="88.40" cy="214.00" r="1.6" fill="#000"/>
<circle cx="91.10" cy="203.30" r="1.6" fill="#000"/>
<circle cx="56.00" cy="262.00" r="1.6" fill="#000"/>
<circle cx="65.00" cy="262.80" r="1.6" fill="#000"/>
<circle cx="70.30" cy="260.00" r="1.6" fill="#000"/>
<circle cx="77.80" cy="256.00" r="1.6" fill="#000"/>
<circle cx="80.10" cy="247.80" r="1.6" fill="#000"/>
<circle cx="83.10" cy="239.50" r="1.6" fill="#000"/>
<circle cx="88.70" cy="222.60" r="1.6" fill="#000"/>
<circle cx="93.90" cy="202.80" r="1.6" fill="#000"/>
<circle cx="56.00" cy="263.00" r="1.6" fill="#000"/>
<circle cx="65.00" cy="262.00" r="1.6" fill="#000"/>
<circle cx="70.30" cy="261.00" r="1.6" fill="#000"/>
<circle cx="75.60" cy="259.00" r="1.6" fill="#000"/>
<circle cx="83.10" cy="250.80" r="1.6" fill="#000"/>
<circle cx="88.30" cy="213.30" r="1.6" fill="#000"/>
<circle cx="96.70" cy="200.30" r="1.6" fill="#000"/>
<circle cx="56.00" cy="262.50" r="1.6" fill="#000"/>
<circle cx="65.00" cy="263.00" r="1.6" fill="#000"/>
<circle cx="70.30" cy="262.00" r="1.6" fill="#000"/>
<circle cx="75.60" cy="260.00" r="1.6" fill="#000"/>
<circle cx="83.10" cy="245.00" r="1.6" fill="#000"/>
<circle cx="88.40" cy="230.00" r="1.6" fill="#000"/>
<circle cx="96.70" cy="206.10" r="1.6" fill="#000"/>
<circle cx="56.00" cy="263.60" r="1.6" fill="#000"/>
<circle cx="65.00" cy="263.20" r="1.6" fill="#000"/>
<circle cx="70.30" cy="262.50" r="1.6" fill="#000"/>
<circle cx="75.60" cy="261.00" r="1.6" fill="#000"/>
<circle cx="86.10" cy="246.60" r="1.6" fill="#000"/>
<circle cx="93.60" cy="232.00" r="1.6" fill="#000"/>
<circle cx="96.70" cy="209.80" r="1.6" fill="#000"/>
<circle cx="56.00" cy="263.60" r="1.6" fill="#000"/>
<circle cx="65.00" cy="262.80" r="1.6" fill="#000"/>
<circle cx="70.30" cy="261.00" r="1.6" fill="#000"/>
<circle cx="75.60" cy="259.00" r="1.6" fill="#000"/>
<circle cx="80.10" cy="256.00" r="1.6" fill="#000"/>
<circle cx="88.40" cy="250.00" r="1.6" fill="#000"/>
<circle cx="93.80" cy="242.00" r="1.6" fill="#000"/>
<circle cx="99.00" cy="234.00" r="1.6" fill="#000"/>
<circle cx="105.00" cy="225.00" r="1.6" fill="#000"/>
<circle cx="120.90" cy="201.30" r="1.6" fill="#000"/>
<circle cx="56.00" cy="264.00" r="1.6" fill="#000"/>
<circle cx="65.00" cy="263.50" r="1.6" fill="#000"/>
<circle cx="70.30" cy="262.00" r="1.6" fill="#000"/>
<circle cx="75.60" cy="260.00" r="1.6" fill="#000"/>
<circle cx="80.10" cy="258.00" r="1.6" fill="#000"/>
<circle cx="86.00" cy="252.00" r="1.6" fill="#000"/>
<circle cx="93.80" cy="246.00" r="1.6" fill="#000"/>
<circle cx="99.00" cy="243.50" r="1.6" fill="#000"/>
<circle cx="104.30" cy="241.00" r="1.6" fill="#000"/>
<circle cx="115.40" cy="236.50" r="1.6" fill="#000"/>
<circle cx="118.30" cy="222.00" r="1.6" fill="#000"/>
<circle cx="120.90" cy="213.60" r="1.6" fill="#000"/>
<circle cx="123.60" cy="199.50" r="1.6" fill="#000"/>
<circle cx="56.00" cy="264.50" r="1.6" fill="#000"/>
<circle cx="65.00" cy="263.00" r="1.6" fill="#000"/>
<circle cx="70.30" cy="262.50" r="1.6" fill="#000"/>
<circle cx="75.60" cy="261.00" r="1.6" fill="#000"/>
<circle cx="80.10" cy="259.50" r="1.6" fill="#000"/>
<circle cx="88.60" cy="262.60" r="1.6" fill="#000"/>
<circle cx="93.80" cy="256.00" r="1.6" fill="#000"/>
<circle cx="99.00" cy="255.00" r="1.6" fill="#000"/>
<circle cx="104.70" cy="248.70" r="1.6" fill="#000"/>
<circle cx="115.60" cy="246.70" r="1.6" fill="#000"/>
<circle cx="123.90" cy="225.90" r="1.6" fill="#000"/>
<circle cx="131.50" cy="213.60" r="1.6" fill="#000"/>
<circle cx="134.40" cy="203.10" r="1.6" fill="#000"/>
<circle cx="56.00" cy="265.00" r="1.6" fill="#000"/>
<circle cx="65.00" cy="264.00" r="1.6" fill="#000"/>
<circle cx="70.30" cy="263.00" r="1.6" fill="#000"/>
<circle cx="75.60" cy="262.00" r="1.6" fill="#000"/>
<circle cx="80.10" cy="261.00" r="1.6" fill="#000"/>
<circle cx="88.40" cy="256.00" r="1.6" fill="#000"/>
<circle cx="93.80" cy="249.00" r="1.6" fill="#000"/>
<circle cx="99.00" cy="246.00" r="1.6" fill="#000"/>
<circle cx="104.30" cy="244.00" r="1.6" fill="#000"/>
<circle cx="107.20" cy="239.20" r="1.6" fill="#000"/>
<circle cx="113.10" cy="231.40" r="1.6" fill="#000"/>
<circle cx="115.60" cy="224.20" r="1.6" fill="#000"/>
<circle cx="123.60" cy="203.90" r="1.6" fill="#000"/>
<circle cx="56.00" cy="264.00" r="1.6" fill="#000"/>
<circle cx="65.00" cy="263.00" r="1.6" fill="#000"/>
<circle cx="70.30" cy="264.30" r="1.6" fill="#000"/>
<circle cx="75.60" cy="262.00" r="1.6" fill="#000"/>
<circle cx="83.10" cy="264.30" r="1.6" fill="#000"/>
<circle cx="88.40" cy="262.00" r="1.6" fill="#000"/>
<circle cx="93.60" cy="258.00" r="1.6" fill="#000"/>
<circle cx="99.60" cy="257.60" r="1.6" fill="#000"/>
<circle cx="104.70" cy="250.00" r="1.6" fill="#000"/>
<circle cx="115.40" cy="258.70" r="1.6" fill="#000"/>
<circle cx="123.60" cy="253.50" r="1.6" fill="#000"/>
<circle cx="128.90" cy="256.80" r="1.6" fill="#000"/>
<circle cx="142.40" cy="254.10" r="1.6" fill="#000"/>
<circle cx="164.30" cy="202.60" r="1.6" fill="#000"/>
<circle cx="45.4" cy="269.4" r="2.0" fill="#000"/>
<line x1="182.40" y1="199.60" x2="191.90" y2="199.60" stroke="#000" stroke-width="1.1" stroke-dasharray="1.1 1.2"/>
<circle cx="186.90" cy="199.60" r="1.75" fill="#000"/>
<line x1="182.40" y1="210.20" x2="191.90" y2="210.20" stroke="#bdbdbd" stroke-width="1.0" />
<circle cx="186.90" cy="210.20" r="1.75" fill="#000"/>
<line x1="182.40" y1="221.00" x2="191.90" y2="221.00" stroke="#000" stroke-width="1.4" />
<circle cx="186.90" cy="221.00" r="1.75" fill="#000"/>
<text x="194.7" y="201.8" font-size="8.2" text-anchor="start" font-weight="normal" fill="#1a1a1a" textLength="38.3" lengthAdjust="spacingAndGlyphs" >Control (IP)</text>
<text x="194.7" y="212.5" font-size="8.2" text-anchor="start" font-weight="normal" fill="#1a1a1a" textLength="65.8" lengthAdjust="spacingAndGlyphs" >R-CHOP (IV + oral)</text>
<text x="194.7" y="223.2" font-size="8.2" text-anchor="start" font-weight="normal" fill="#1a1a1a" textLength="43.6" lengthAdjust="spacingAndGlyphs" >HG-6-64 (IP)</text>
<rect x="0.5" y="0.5" width="519" height="305" fill="none" stroke="#000" stroke-width="1"/>
</svg>
</body></html>
